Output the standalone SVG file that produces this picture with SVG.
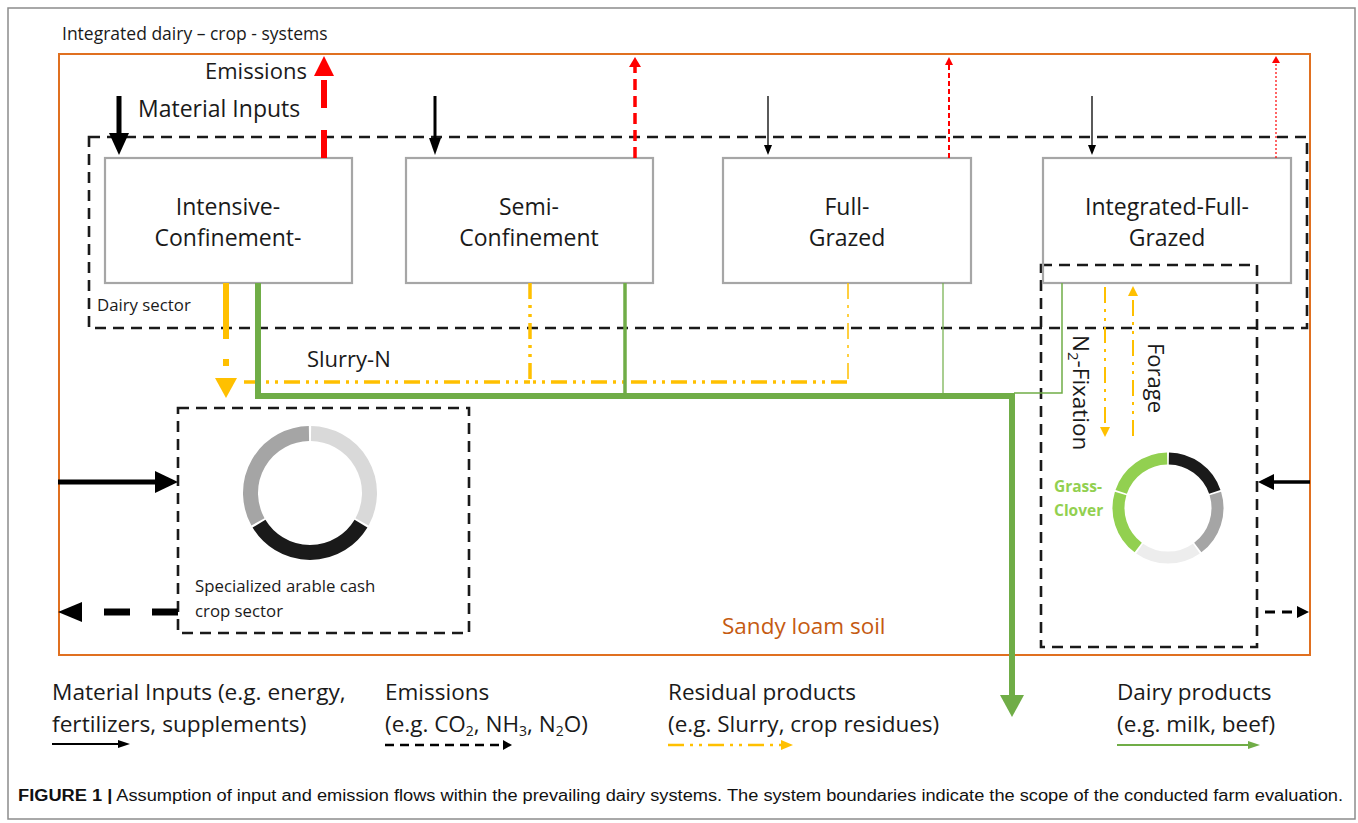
<svg xmlns="http://www.w3.org/2000/svg" width="1358" height="823" viewBox="0 0 1358 823">
<style>
.t{font-family:"Open Sans","DejaVu Sans",sans-serif;fill:#1a1a1a}
.box{fill:#fff;stroke:#a6a6a6;stroke-width:2.2}
.dash{fill:none;stroke:#1a1a1a;stroke-width:2.6;stroke-dasharray:11 7}
.yl{fill:none;stroke:#FFC000}
.gr{fill:none;stroke:#70AD47}
.rd{fill:none;stroke:#FF0000}
.bk{fill:none;stroke:#000}
.dd{stroke-dasharray:16 6 3 6 3 6}
</style>
<rect x="0" y="0" width="1358" height="823" fill="#fff"/>
<rect x="8" y="8" width="1347" height="811" fill="none" stroke="#8c8c8c" stroke-width="1.5"/>

<g id="system-boundary">
<rect x="59" y="54" width="1251" height="601" fill="none" stroke="#E07020" stroke-width="2"/>
<text class="t" x="62" y="40" font-size="17.5">Integrated dairy – crop - systems</text>
<text x="722" y="634" font-size="22.5" font-family="Open Sans,sans-serif" fill="#C55A11">Sandy loam soil</text>
</g>

<g id="dairy-sector">
<rect class="dash" x="89" y="137" width="1218" height="191"/>
<text class="t" x="97" y="311" font-size="16.8">Dairy sector</text>
</g>

<g id="specialized-crop-sector">
<rect class="dash" x="178" y="408" width="291" height="225"/>
<path d="M311.04,433.51 A59.5,59.5 0 0 1 362.04,521.85" fill="none" stroke="#d9d9d9" stroke-width="15"/>
<path d="M361.0,523.64 A59.5,59.5 0 0 1 259.0,523.64" fill="none" stroke="#1a1a1a" stroke-width="15"/>
<path d="M257.96,521.85 A59.5,59.5 0 0 1 308.96,433.51" fill="none" stroke="#a5a5a5" stroke-width="15"/>
<text class="t" x="195" y="592" font-size="16.8">Specialized arable cash</text>
<text class="t" x="195" y="617" font-size="16.8">crop sector</text>
</g>

<g id="integrated-crop-sector">
<rect class="dash" x="1041" y="265" width="216" height="382"/>
<path d="M1168.86,458.51 A49.5,49.5 0 0 1 1214.80,491.88" fill="none" stroke="#1a1a1a" stroke-width="12"/>
<path d="M1215.34,493.53 A49.5,49.5 0 0 1 1197.79,547.53" fill="none" stroke="#a5a5a5" stroke-width="12"/>
<path d="M1196.39,548.55 A49.5,49.5 0 0 1 1139.61,548.55" fill="none" stroke="#ededed" stroke-width="12"/>
<path d="M1138.21,547.53 A49.5,49.5 0 0 1 1120.66,493.53" fill="none" stroke="#92D050" stroke-width="12"/>
<path d="M1121.20,491.88 A49.5,49.5 0 0 1 1167.14,458.51" fill="none" stroke="#92D050" stroke-width="12"/>
<text x="1054" y="492" font-size="15.5" font-weight="bold" font-family="Open Sans,sans-serif" fill="#92D050">Grass-</text>
<text x="1054" y="516" font-size="15.5" font-weight="bold" font-family="Open Sans,sans-serif" fill="#92D050">Clover</text>
<text class="t" x="1148" y="343" font-size="22" transform="rotate(90 1148 343)">Forage</text>
<text class="t" x="1073" y="335" font-size="22.5" transform="rotate(90 1073 335)">N<tspan font-size="15" dy="5">2</tspan><tspan dy="-5">-Fixation</tspan></text>
</g>

<g id="intensive-confinement">
<rect class="box" x="105" y="158" width="247" height="125"/>
<text class="t" x="228" y="215" font-size="23" text-anchor="middle">Intensive-</text>
<text class="t" x="228" y="246" font-size="23" text-anchor="middle">Confinement-</text>
</g>
<g id="semi-confinement">
<rect class="box" x="406" y="158" width="247" height="125"/>
<text class="t" x="529" y="215" font-size="23" text-anchor="middle">Semi-</text>
<text class="t" x="529" y="246" font-size="23" text-anchor="middle">Confinement</text>
</g>
<g id="full-grazed">
<rect class="box" x="723" y="158" width="248" height="125"/>
<text class="t" x="847" y="215" font-size="23" text-anchor="middle">Full-</text>
<text class="t" x="847" y="246" font-size="23" text-anchor="middle">Grazed</text>
</g>
<g id="integrated-full-grazed">
<rect class="box" x="1043" y="158" width="248" height="125" style="fill:none"/>
<text class="t" x="1167" y="215" font-size="23" text-anchor="middle">Integrated-Full-</text>
<text class="t" x="1167" y="246" font-size="23" text-anchor="middle">Grazed</text>
</g>

<g id="connectors">
<line class="bk" x1="119" y1="96" x2="119" y2="136" stroke-width="5"/>
<polygon points="109,133 129,133 119,155"/>
<line class="bk" x1="435" y1="96" x2="435" y2="140" stroke-width="3"/>
<polygon points="429,138 441,138 435,155"/>
<line class="bk" x1="768" y1="96" x2="768" y2="146" stroke-width="1.3"/>
<polygon points="764,145 772,145 768,155"/>
<line class="bk" x1="1092" y1="96" x2="1092" y2="146" stroke-width="1.3"/>
<polygon points="1088,145 1096,145 1092,155"/>
<text class="t" x="138" y="117" font-size="23">Material Inputs</text>
<line class="rd" x1="324" y1="158" x2="324" y2="76" stroke-width="6" stroke-dasharray="28 22"/>
<polygon points="314,76 334,76 324,56" fill="#FF0000"/>
<line class="rd" x1="635" y1="158" x2="635" y2="66" stroke-width="3.5" stroke-dasharray="11 6"/>
<polygon points="629,67 641,67 635,57" fill="#FF0000"/>
<line class="rd" x1="949" y1="158" x2="949" y2="64" stroke-width="2" stroke-dasharray="5 3"/>
<polygon points="945,65 953,65 949,57" fill="#FF0000"/>
<line class="rd" x1="1276" y1="158" x2="1276" y2="63" stroke-width="1.2" stroke-dasharray="2 2"/>
<polygon points="1272,63 1280,63 1276,56" fill="#FF0000"/>
<text class="t" x="205" y="79" font-size="22">Emissions</text>
<line class="yl" x1="226" y1="283" x2="226" y2="339" stroke-width="6"/>
<line class="yl" x1="226" y1="359" x2="226" y2="366" stroke-width="6"/>
<polygon points="215,378 237,378 226,398" fill="#FFC000"/>
<line class="yl dd" x1="244" y1="382" x2="530" y2="382" stroke-width="3.5"/>
<path class="yl dd" d="M530,283 V382 H848" stroke-width="3.5"/>
<line class="yl dd" x1="848" y1="283" x2="848" y2="382" stroke-width="1.5"/>
<text class="t" x="307" y="367" font-size="22">Slurry-N</text>
<line class="yl dd" x1="1105" y1="287" x2="1105" y2="428" stroke-width="2"/>
<polygon points="1100,427 1110,427 1105,437" fill="#FFC000"/>
<line class="yl dd" x1="1133" y1="436" x2="1133" y2="295" stroke-width="2"/>
<polygon points="1128,296 1138,296 1133,286" fill="#FFC000"/>
<path class="gr" d="M258,283 V396 H1012 V697" stroke-width="6"/>
<polygon points="1000,695 1024,695 1012,717" fill="#70AD47"/>
<line class="gr" x1="625" y1="283" x2="625" y2="396" stroke-width="3.5"/>
<line class="gr" x1="943" y1="283" x2="943" y2="396" stroke-width="1.2"/>
<path class="gr" d="M1062,283 V393 H1014" stroke-width="1.5"/>
<line class="bk" x1="58" y1="482" x2="158" y2="482" stroke-width="5"/>
<polygon points="155,471 178,482 155,493"/>
<line class="bk" x1="178" y1="612" x2="82" y2="612" stroke-width="7" stroke-dasharray="26 22"/>
<polygon points="82,602 58,612 82,622"/>
<line class="bk" x1="1310" y1="482" x2="1272" y2="482" stroke-width="3.5"/>
<polygon points="1274,474 1258,482 1274,490"/>
<line class="bk" x1="1265" y1="612" x2="1298" y2="612" stroke-width="3" stroke-dasharray="10 7"/>
<polygon points="1297,606 1309,612 1297,618"/>
</g>

<g id="legend">
<text class="t" x="52" y="700" font-size="22.7">Material Inputs (e.g. energy,</text>
<text class="t" x="52" y="732" font-size="22.7">fertilizers, supplements)</text>
<line class="bk" x1="52" y1="744" x2="120" y2="744" stroke-width="2"/>
<polygon points="118,740 130,744 118,748"/>
<text class="t" x="385" y="700" font-size="22.5">Emissions</text>
<text class="t" x="385" y="732" font-size="22.5">(e.g. CO<tspan font-size="14" dy="4">2</tspan><tspan dy="-4">, NH</tspan><tspan font-size="14" dy="4">3</tspan><tspan dy="-4">, N</tspan><tspan font-size="14" dy="4">2</tspan><tspan dy="-4">O)</tspan></text>
<line class="bk" x1="385" y1="745" x2="503" y2="745" stroke-width="2.5" stroke-dasharray="9 6"/>
<polygon points="503,740 512,745 503,750"/>
<text class="t" x="668" y="700" font-size="22.5">Residual products</text>
<text class="t" x="668" y="732" font-size="22.5">(e.g. Slurry, crop residues)</text>
<line class="yl dd" x1="668" y1="745" x2="782" y2="745" stroke-width="2.5"/>
<polygon points="781,740 793,745 781,750" fill="#FFC000"/>
<text class="t" x="1117" y="700" font-size="22.5">Dairy products</text>
<text class="t" x="1117" y="732" font-size="22.5">(e.g. milk, beef)</text>
<line class="gr" x1="1117" y1="745" x2="1250" y2="745" stroke-width="2"/>
<polygon points="1248,741 1260,745 1248,749" fill="#70AD47"/>
</g>

<g id="caption">
<text x="18" y="801" font-size="16" font-family="Liberation Sans,Arial,sans-serif" fill="#111" textLength="1325" lengthAdjust="spacingAndGlyphs"><tspan font-weight="bold">FIGURE 1 |</tspan> Assumption of input and emission flows within the prevailing dairy systems. The system boundaries indicate the scope of the conducted farm evaluation.</text>
</g>
</svg>
